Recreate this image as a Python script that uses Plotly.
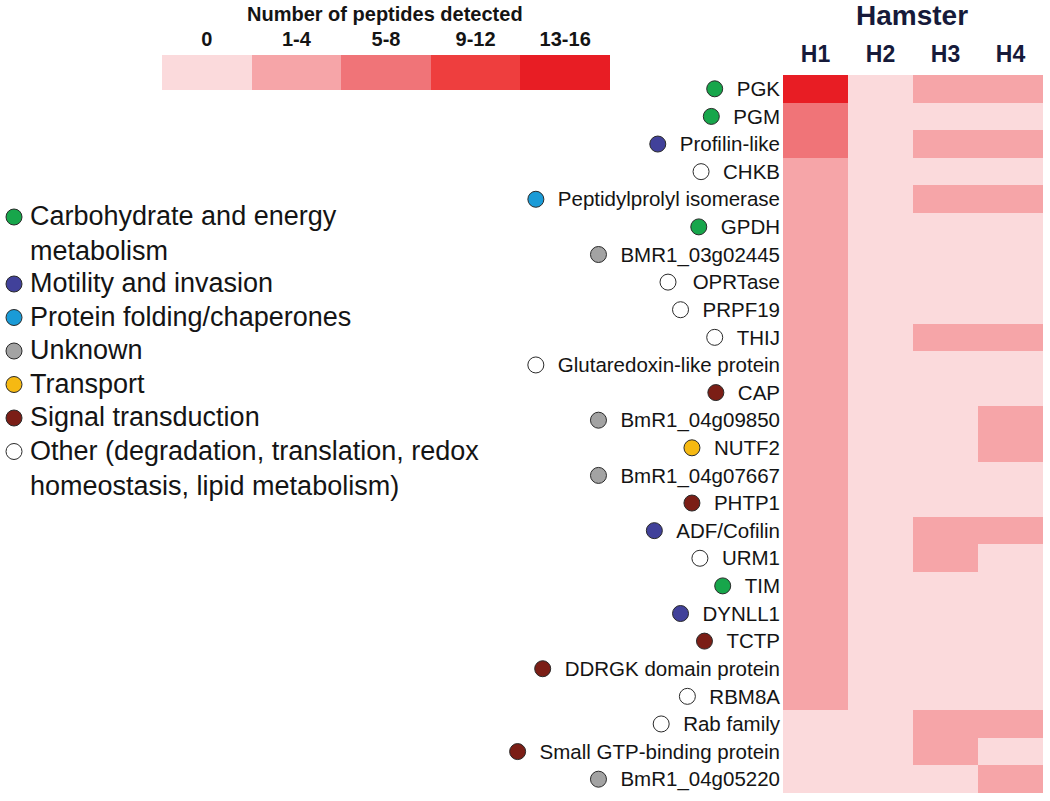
# ── 1. Imports ────────────────────────────────
import plotly.graph_objects as go

# ── 2. DATA ───────────────────────────────────
proteins = ["PGK", "PGM", "Profilin-like", "CHKB", "Peptidylprolyl isomerase", "GPDH",
            "BMR1_03g02445", "OPRTase", "PRPF19", "THIJ", "Glutaredoxin-like protein",
            "CAP", "BmR1_04g09850", "NUTF2", "BmR1_04g07667", "PHTP1", "ADF/Cofilin",
            "URM1", "TIM", "DYNLL1", "TCTP", "DDRGK domain protein", "RBM8A",
            "Rab family", "Small GTP-binding protein", "BmR1_04g05220"]
hamsters = ["H1", "H2", "H3", "H4"]

# peptide-count class per protein: 0 = 0, 1 = 1-4, 2 = 5-8, 3 = 9-12, 4 = 13-16
h1 = [4, 2, 2, 1, 1, 1, 1, 1, 1, 1, 1, 1, 1, 1, 1, 1, 1, 1, 1, 1, 1, 1, 1, 0, 0, 0]
h2 = [0, 0, 0, 0, 0, 0, 0, 0, 0, 0, 0, 0, 0, 0, 0, 0, 0, 0, 0, 0, 0, 0, 0, 0, 0, 0]
h3 = [1, 0, 1, 0, 1, 0, 0, 0, 0, 1, 0, 0, 0, 0, 0, 0, 1, 1, 0, 0, 0, 0, 0, 1, 1, 0]
h4 = [1, 0, 1, 0, 1, 0, 0, 0, 0, 1, 0, 0, 1, 1, 0, 0, 1, 0, 0, 0, 0, 0, 0, 1, 0, 1]

protein_class = ["carb", "carb", "motility", "other", "folding", "carb", "unknown",
                 "other", "other", "other", "other", "signal", "unknown", "transport",
                 "unknown", "signal", "motility", "other", "carb", "motility", "signal",
                 "signal", "other", "other", "signal", "unknown"]

class_keys = ["carb", "motility", "folding", "unknown", "transport", "signal", "other"]
class_labels = ["Carbohydrate and energy<br>metabolism", "Motility and invasion",
                "Protein folding/chaperones", "Unknown", "Transport", "Signal transduction",
                "Other (degradation, translation, redox<br>homeostasis, lipid metabolism)"]
class_colors = ["#17a64b", "#41419a", "#1a9bd7", "#a3a3a3", "#f6b912", "#7b1e16", "#ffffff"]

count_bins = ["0", "1-4", "5-8", "9-12", "13-16"]
bin_colors = ["#fbdadc", "#f6a5a8", "#f07478", "#ee3e3e", "#e81d24"]

# ── 3. STYLE ──────────────────────────────────
W, H = 1050, 801
FONT = "Liberation Sans, Arial, sans-serif"
INK = "#141414"
NAVY = "#161a3a"
LABEL_FS = 20.5
LEGEND_FS = 27

# Arial / Liberation Sans advance widths (per 1000 em) to place the dots
ARIAL = {" ": 278, "A": 667, "B": 667, "C": 722, "D": 722, "E": 667, "F": 611, "G": 778,
         "H": 722, "I": 278, "J": 500, "K": 667, "L": 556, "M": 833, "N": 722, "O": 778,
         "P": 667, "Q": 778, "R": 722, "S": 667, "T": 611, "U": 722, "V": 667, "W": 944,
         "X": 667, "Y": 667, "Z": 611, "a": 556, "b": 556, "c": 500, "d": 556, "e": 556,
         "f": 278, "g": 556, "h": 556, "i": 222, "j": 222, "k": 500, "l": 222, "m": 833,
         "n": 556, "o": 556, "p": 556, "q": 556, "r": 333, "s": 500, "t": 278, "u": 556,
         "v": 500, "w": 722, "x": 500, "y": 500, "z": 500, "-": 333, "/": 278, "_": 556}


def text_width(s, size):
    return sum(ARIAL.get(c, 556) for c in s) / 1000 * size


def px_x(x):
    return x / W


def px_y(y):
    return 1 - y / H


# ── 4. FIGURE ─────────────────────────────────
z = [[a, b, c, d] for a, b, c, d in zip(h1, h2, h3, h4)]
n = len(bin_colors)
colorscale = []
for k, col in enumerate(bin_colors):
    colorscale += [[k / n, col], [(k + 1) / n, col]]

fig = go.Figure()

# main heatmap
fig.add_trace(go.Heatmap(z=z, x=hamsters, y=proteins, colorscale=colorscale,
                         zmin=-0.5, zmax=n - 0.5, showscale=False, hoverinfo="skip",
                         xaxis="x", yaxis="y"))

# category dots left of the protein names
HEAT_LEFT = 783
label_right = HEAT_LEFT - 5
dot_x = [label_right - text_width(p, LABEL_FS) - 20 for p in proteins]
dot_col = [class_colors[class_keys.index(c)] for c in protein_class]
fig.add_trace(go.Scatter(x=dot_x, y=proteins, mode="markers", hoverinfo="skip",
                         marker=dict(size=16, color=dot_col,
                                     line=dict(color="#2a2a2a", width=1)),
                         xaxis="x2", yaxis="y"))

# colour key heatmap (top)
fig.add_trace(go.Heatmap(z=[list(range(n))], x=count_bins, y=[""], colorscale=colorscale,
                         zmin=-0.5, zmax=n - 0.5, showscale=False, hoverinfo="skip",
                         xaxis="x4", yaxis="y4"))

# category legend (left)
LEG_TOP = 217
LINE_H = 33.5
leg_y = []
y = LEG_TOP
for lab in class_labels:
    leg_y.append(y)
    y += LINE_H * (lab.count("<br>") + 1)
fig.add_trace(go.Scatter(x=[14] * len(class_keys), y=leg_y, mode="markers",
                         hoverinfo="skip",
                         marker=dict(size=16, color=class_colors,
                                     line=dict(color="#2a2a2a", width=1)),
                         xaxis="x3", yaxis="y3"))
for lab, yy in zip(class_labels, leg_y):
    fig.add_annotation(x=28, y=yy - 18, xref="x3", yref="y3", text=lab,
                       xanchor="left", yanchor="top", align="left", showarrow=False,
                       font=dict(family=FONT, size=LEGEND_FS, color=INK))

fig.add_annotation(x=385, y=14, xref="x3", yref="y3", text="Number of peptides detected",
                   showarrow=False, xanchor="center", yanchor="middle",
                   font=dict(family=FONT, size=20, color=INK, weight="bold"))
fig.add_annotation(x=912, y=15, xref="x3", yref="y3", text="Hamster",
                   showarrow=False, xanchor="center", yanchor="middle",
                   font=dict(family=FONT, size=28, color=NAVY, weight="bold"))

hidden = dict(visible=False, showgrid=False, zeroline=False, automargin=False)
fig.update_layout(
    width=W, height=H, margin=dict(l=0, r=0, t=0, b=0, autoexpand=False),
    paper_bgcolor="white", plot_bgcolor="rgba(0,0,0,0)",
    showlegend=False, hovermode=False,
    font=dict(family=FONT, color=INK),
    xaxis=dict(domain=[px_x(783), px_x(1043)], side="top", anchor="y",
               showgrid=False, zeroline=False, ticks="", ticklabelstandoff=7,
               automargin=False, tickfont=dict(size=23, color=NAVY, weight="bold")),
    yaxis=dict(domain=[px_y(793), px_y(75)], range=[len(proteins) - 0.5, -0.5],
               anchor="x", showgrid=False, zeroline=False, ticks="", ticklabelstandoff=2,
               automargin=False, tickfont=dict(size=LABEL_FS, color=INK)),
    xaxis2=dict(domain=[0, px_x(HEAT_LEFT)], range=[0, HEAT_LEFT], anchor="y", **hidden),
    xaxis3=dict(domain=[0, 1], range=[0, W], anchor="y3", **hidden),
    yaxis3=dict(domain=[0, 1], range=[H, 0], anchor="x3", **hidden),
    xaxis4=dict(domain=[px_x(162), px_x(610)], side="top", anchor="y4",
                showgrid=False, zeroline=False, ticks="", ticklabelstandoff=4,
                automargin=False, tickfont=dict(size=20, color=INK, weight="bold")),
    yaxis4=dict(domain=[px_y(90), px_y(55)], anchor="x4", showticklabels=False,
                showgrid=False, zeroline=False, ticks="", automargin=False),
)

# page body has a default 8px margin; drop it so the figure fills the window
fig.write_html("out.html", config={"displayModeBar": False},
               post_script="document.body.style.margin='0';"
                           "document.body.style.overflow='hidden';")
